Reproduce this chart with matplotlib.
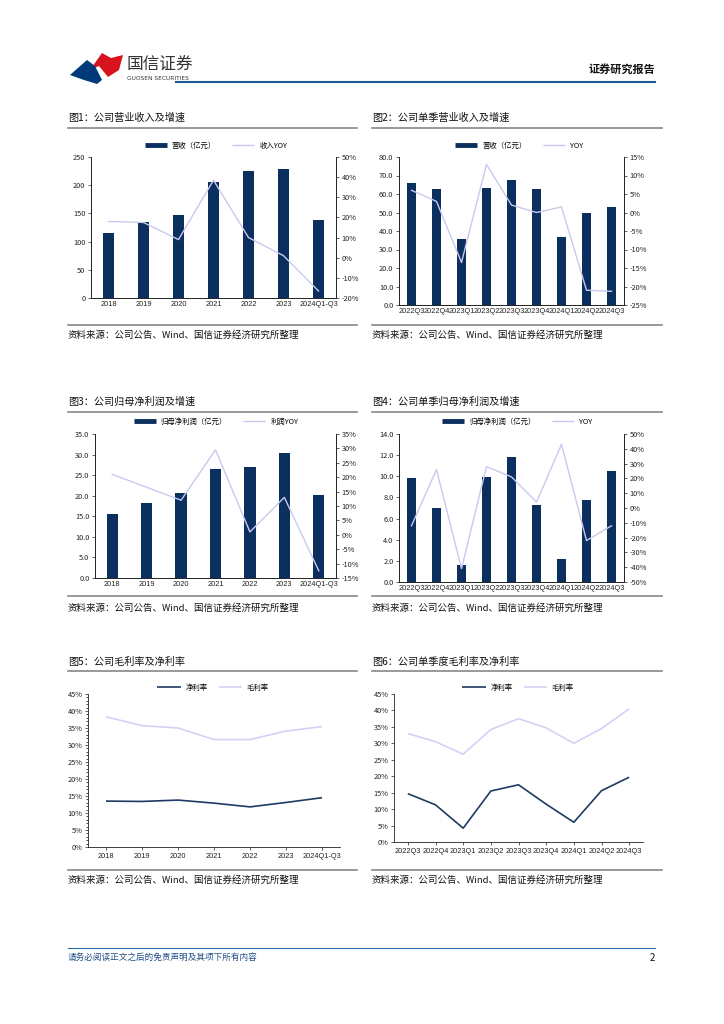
import matplotlib
matplotlib.use("Agg")
import matplotlib.pyplot as plt
from matplotlib.lines import Line2D
from matplotlib.patches import Polygon
from matplotlib.ticker import FuncFormatter, MultipleLocator

plt.rcParams['font.family'] = ['Noto Sans CJK SC', 'DejaVu Sans']
plt.rcParams['axes.unicode_minus'] = False

# ---------------- data ----------------
years = ["2018", "2019", "2020", "2021", "2022", "2023", "2024Q1-Q3"]
quarters = ["2022Q3", "2022Q4", "2023Q1", "2023Q2", "2023Q3", "2023Q4", "2024Q1", "2024Q2", "2024Q3"]

revenue = [115, 135, 147, 205, 225, 228, 139]
revenue_yoy = [18.0, 17.5, 9.0, 38.5, 10.0, 1.0, -16.5]

q_revenue = [66.0, 62.5, 35.8, 63.0, 67.5, 62.5, 36.5, 49.5, 53.2]
q_revenue_yoy = [6.0, 3.0, -13.5, 13.0, 2.0, 0.0, 1.5, -21.0, -21.3]

profit = [15.6, 18.3, 20.6, 26.6, 26.9, 30.3, 20.2]
profit_yoy = [21.0, 16.5, 12.0, 29.5, 1.0, 13.0, -12.5]

q_profit = [9.8, 7.0, 1.6, 9.9, 11.8, 7.3, 2.2, 7.8, 10.5]
q_profit_yoy = [-12.0, 26.0, -41.0, 28.0, 21.0, 4.0, 43.0, -22.0, -12.0]

net_margin = [13.5, 13.4, 13.8, 12.9, 11.8, 13.1, 14.5]
gross_margin = [38.3, 35.7, 35.0, 31.6, 31.6, 34.1, 35.4]

q_net_margin = [14.7, 11.3, 4.2, 15.5, 17.4, 11.5, 6.0, 15.6, 19.7]
q_gross_margin = [33.0, 30.5, 26.7, 34.2, 37.5, 34.7, 30.0, 34.5, 40.5]

titles = ["图1：公司营业收入及增速", "图2：公司单季营业收入及增速",
          "图3：公司归母净利润及增速", "图4：公司单季归母净利润及增速",
          "图5：公司毛利率及净利率", "图6：公司单季度毛利率及净利率"]
source = "资料来源：公司公告、Wind、国信证券经济研究所整理"

# ---------------- style ----------------
NAVY = "#0b2f5e"
LAV = "#c9c9f0"
DARKLINE = "#1d3b63"
W, H = 724, 1024
TICK_FS = 5.3
XQ_FS = 4.4

fig = plt.figure(figsize=(W / 100, H / 100), dpi=100)


def rect(l, t, r, b):
    return [l / W, 1 - b / H, (r - l) / W, (b - t) / H]


def fx(x):
    return x / W


def fy(y):
    return 1 - y / H


# ---------------- header ----------------
logo_red = Polygon([[fx(90), fy(70)], [fx(102), fy(53)], [fx(111), fy(58)], [fx(123), fy(55)],
                    [fx(119), fy(70)], [fx(108), fy(77)], [fx(99), fy(66)]],
                   closed=True, transform=fig.transFigure, color="#d7141e", lw=0)
logo_blue = Polygon([[fx(70), fy(75)], [fx(87), fy(60)], [fx(95), fy(66)], [fx(102), fy(80)],
                     [fx(97), fy(84)], [fx(84), fy(80)]],
                    closed=True, transform=fig.transFigure, color="#003a78", lw=0)
fig.add_artist(logo_red)
fig.add_artist(logo_blue)
fig.text(fx(127), fy(64), "国信证券", fontsize=12, color="#333333", va="center", ha="left")
fig.text(fx(127), fy(78), "GUOSEN SECURITIES", fontsize=4.2, color="#333333", va="center", ha="left",
         family=["DejaVu Sans"])
fig.text(fx(655), fy(69), "证券研究报告", fontsize=8, fontweight="bold", color="#111111",
         va="center", ha="right")
fig.add_artist(Line2D([fx(176), fx(655)], [fy(81.5), fy(81.5)], transform=fig.transFigure,
                      color="#1e5a96", lw=1.5))

# footer
fig.add_artist(Line2D([fx(68), fx(655)], [fy(948), fy(948)], transform=fig.transFigure,
                      color="#2a6aa6", lw=0.8))
fig.text(fx(68), fy(957), "请务必阅读正文之后的免责声明及其项下所有内容", fontsize=6.2,
         color="#1f4e85", style="italic", va="center", ha="left")
fig.text(fx(655), fy(958), "2", fontsize=7, color="#111111", va="center", ha="right")


def panel_frame(x0, x1, title_y, line_y, src_line_y, src_y, title):
    fig.text(fx(x0), fy(title_y), title, fontsize=7.3, color="#111111", va="center", ha="left")
    fig.add_artist(Line2D([fx(x0), fx(x1)], [fy(line_y), fy(line_y)], transform=fig.transFigure,
                          color="#888888", lw=1.2))
    fig.add_artist(Line2D([fx(x0), fx(x1)], [fy(src_line_y), fy(src_line_y)],
                          transform=fig.transFigure, color="#888888", lw=1.2))
    fig.text(fx(x0), fy(src_y), source, fontsize=6.8, color="#111111", va="center", ha="left")


def style_axes(ax):
    for s in ax.spines.values():
        s.set_linewidth(0.6)
        s.set_color("#222222")
    ax.tick_params(labelsize=TICK_FS, length=2, width=0.5, colors="#222222", pad=2)


def set_cats(ax, cats):
    x = list(range(len(cats)))
    ax.set_xticks(x)
    fs = XQ_FS if len(cats) > 7 else TICK_FS
    ax.set_xticklabels(cats, fontsize=fs, family=["Liberation Sans", "DejaVu Sans"])
    return x


def bar_line(box, cats, bars, yoy, ylim, ystep, yfmt, rlim, rstep, bar_label, line_label,
             legend_y, legend_x):
    ax = fig.add_axes(rect(*box))
    n = len(cats)
    x = list(range(n))
    ax.bar(x, bars, width=0.33, color=NAVY, zorder=2)
    ax.set_xlim(-0.5, n - 0.5)
    ax.set_ylim(*ylim)
    ax.yaxis.set_major_locator(MultipleLocator(ystep))
    ax.yaxis.set_major_formatter(FuncFormatter(yfmt))
    set_cats(ax, cats)
    ax.spines['top'].set_visible(False)
    style_axes(ax)
    ax.tick_params(axis='x', length=0)
    ax2 = ax.twinx()
    ax2.plot(x, yoy, color=LAV, lw=1.0, zorder=3)
    ax2.set_ylim(*rlim)
    ax2.yaxis.set_major_locator(MultipleLocator(rstep))
    ax2.yaxis.set_major_formatter(FuncFormatter(lambda v, p: f"{v:.0f}%"))
    ax2.spines['top'].set_visible(False)
    style_axes(ax2)
    handles = [Line2D([0], [0], color=NAVY, lw=3.5, solid_capstyle="butt"),
               Line2D([0], [0], color=LAV, lw=1.0, solid_capstyle="butt")]
    fig.legend(handles, [bar_label, line_label], loc="center", bbox_to_anchor=(fx(legend_x), fy(legend_y)),
               ncol=2, frameon=False, fontsize=TICK_FS, handlelength=3.0, columnspacing=2.2,
               handletextpad=0.7)
    return ax, ax2


def line_chart(box, cats, net, gross, legend_y, legend_x, minor=False):
    ax = fig.add_axes(rect(*box))
    n = len(cats)
    x = list(range(n))
    ax.plot(x, net, color=DARKLINE, lw=1.2, label="净利率", solid_capstyle="butt")
    ax.plot(x, gross, color="#d2d2f5", lw=1.2, label="毛利率", solid_capstyle="butt")
    ax.set_xlim(-0.5, n - 0.5)
    ax.set_ylim(0, 45)
    ax.yaxis.set_major_locator(MultipleLocator(5))
    if minor:
        ax.yaxis.set_minor_locator(MultipleLocator(1))
    ax.yaxis.set_major_formatter(FuncFormatter(lambda v, p: f"{v:.0f}%"))
    set_cats(ax, cats)
    ax.spines['top'].set_visible(False)
    ax.spines['right'].set_visible(False)
    style_axes(ax)
    ax.tick_params(axis='y', which='minor', length=1.5, width=0.5)
    fig.legend(*ax.get_legend_handles_labels(), loc="center",
               bbox_to_anchor=(fx(legend_x), fy(legend_y)), ncol=2, frameon=False,
               fontsize=TICK_FS, handlelength=3.2, columnspacing=1.5, handletextpad=0.6)
    return ax


# ---------------- panel 1 ----------------
panel_frame(68, 357, 118, 128, 325, 335, titles[0])
bar_line((91, 157, 336, 298), years, revenue, revenue_yoy, (0, 250), 50,
         lambda v, p: f"{v:.0f}", (-20, 50), 10, "营收（亿元）", "收入YOY", 146, 216)

# ---------------- panel 2 ----------------
panel_frame(372, 662, 118, 128, 325, 335, titles[1])
bar_line((399, 157, 624, 305), quarters, q_revenue, q_revenue_yoy, (0, 80), 10,
         lambda v, p: f"{v:.1f}", (-25, 15), 5, "营收（亿元）", "YOY", 146, 519)

# ---------------- panel 3 ----------------
panel_frame(68, 357, 402, 412, 596, 608, titles[2])
bar_line((95, 434, 336, 578), years, profit, profit_yoy, (0, 35), 5,
         lambda v, p: f"{v:.1f}", (-15, 35), 5, "归母净利润（亿元）", "利润YOY", 422, 216)

# ---------------- panel 4 ----------------
panel_frame(372, 662, 402, 412, 596, 608, titles[3])
bar_line((399, 434, 624, 582), quarters, q_profit, q_profit_yoy, (0, 14), 2,
         lambda v, p: f"{v:.1f}", (-50, 50), 10, "归母净利润（亿元）", "YOY", 422, 517)

# ---------------- panel 5 ----------------
panel_frame(68, 357, 662, 671, 870, 880, titles[4])
line_chart((88, 694, 340, 847), years, net_margin, gross_margin, 688, 213, minor=True)

# ---------------- panel 6 ----------------
panel_frame(372, 662, 662, 671, 870, 880, titles[5])
line_chart((394, 694, 643, 842), quarters, q_net_margin, q_gross_margin, 688, 518)

fig.savefig("out.png", dpi=100)
